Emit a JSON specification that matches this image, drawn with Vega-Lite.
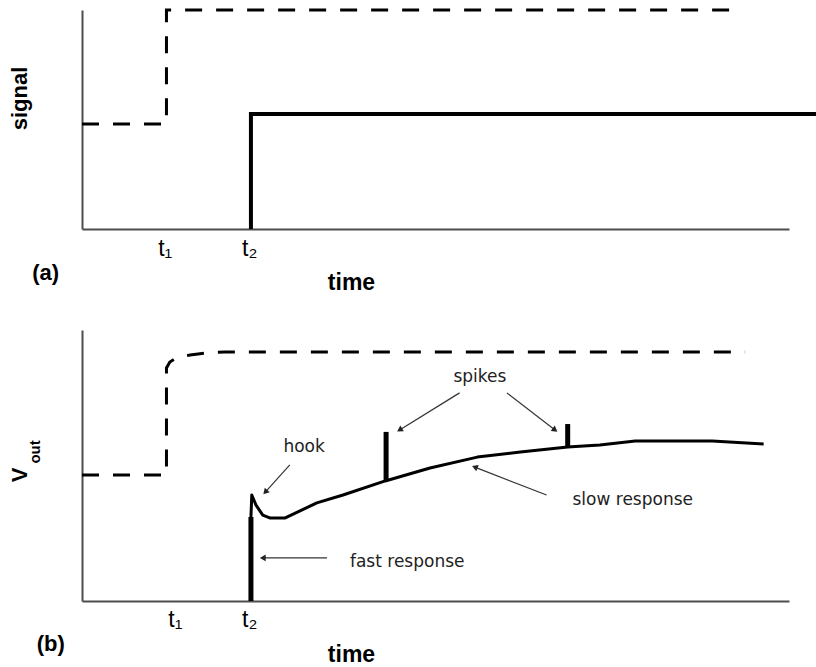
{
  "$schema": "https://vega.github.io/schema/vega-lite/v6.json",
  "autosize": {"type": "pad"},
  "padding": {"left": 8, "top": 4, "right": 0, "bottom": 0},
  "background": "white",
  "bounds": "flush",
  "spacing": 101,
  "config": {"view": {"stroke": null}},
  "datasets": {
    "a_lines": [
      {"series": "dashed", "i": 0, "t": 0, "v": 0.48},
      {"series": "dashed", "i": 1, "t": 1.0, "v": 0.48},
      {"series": "dashed", "i": 2, "t": 1.0, "v": 1.0},
      {"series": "dashed", "i": 3, "t": 7.75, "v": 1.0},
      {"series": "solid", "i": 0, "t": 2.0, "v": 0},
      {"series": "solid", "i": 1, "t": 2.0, "v": 0.525},
      {"series": "solid", "i": 2, "t": 8.69, "v": 0.525}
    ],
    "a_notes": [
      {"label": "(a)", "t": -0.43, "v": -0.2}
    ],
    "b_lines": [
      {"series": "dashed", "i": 0, "t": 0, "v": 0.465},
      {"series": "dashed", "i": 1, "t": 1.0, "v": 0.465},
      {"series": "dashed", "i": 2, "t": 1.0, "v": 0.86},
      {"series": "dashed", "i": 3, "t": 1.04, "v": 0.882},
      {"series": "dashed", "i": 4, "t": 1.12, "v": 0.897},
      {"series": "dashed", "i": 5, "t": 1.28, "v": 0.908},
      {"series": "dashed", "i": 6, "t": 1.46, "v": 0.915},
      {"series": "dashed", "i": 7, "t": 1.69, "v": 0.919},
      {"series": "dashed", "i": 8, "t": 7.85, "v": 0.919},
      {"series": "slow", "i": 0, "t": 2.0, "v": 0.31},
      {"series": "slow", "i": 1, "t": 2.01, "v": 0.391},
      {"series": "slow", "i": 2, "t": 2.06, "v": 0.354},
      {"series": "slow", "i": 3, "t": 2.14, "v": 0.317},
      {"series": "slow", "i": 4, "t": 2.23, "v": 0.306},
      {"series": "slow", "i": 5, "t": 2.40, "v": 0.306},
      {"series": "slow", "i": 6, "t": 2.55, "v": 0.328},
      {"series": "slow", "i": 7, "t": 2.78, "v": 0.362},
      {"series": "slow", "i": 8, "t": 3.09, "v": 0.391},
      {"series": "slow", "i": 9, "t": 3.59, "v": 0.443},
      {"series": "slow", "i": 10, "t": 4.12, "v": 0.491},
      {"series": "slow", "i": 11, "t": 4.68, "v": 0.531},
      {"series": "slow", "i": 12, "t": 5.19, "v": 0.55},
      {"series": "slow", "i": 13, "t": 5.75, "v": 0.568},
      {"series": "slow", "i": 14, "t": 6.13, "v": 0.576},
      {"series": "slow", "i": 15, "t": 6.55, "v": 0.59},
      {"series": "slow", "i": 16, "t": 7.46, "v": 0.59},
      {"series": "slow", "i": 17, "t": 8.07, "v": 0.579}
    ],
    "b_rules": [
      {"name": "fast", "t": 2.0, "v": 0, "v2": 0.31},
      {"name": "spike1", "t": 3.6, "v": 0.443, "v2": 0.624},
      {"name": "spike2", "t": 5.75, "v": 0.568, "v2": 0.653}
    ],
    "b_notes": [
      {"label": "spikes", "t": 4.71, "v": 0.827},
      {"label": "hook", "t": 2.63, "v": 0.568},
      {"label": "fast response", "t": 3.85, "v": 0.144},
      {"label": "slow response", "t": 6.52, "v": 0.373}
    ],
    "b_arrows": [
      {"name": "hook", "t": 2.46, "v": 0.502, "t2": 2.17, "v2": 0.402},
      {"name": "spikes-left", "t": 4.47, "v": 0.768, "t2": 3.76, "v2": 0.631},
      {"name": "spikes-right", "t": 5.03, "v": 0.768, "t2": 5.6, "v2": 0.631},
      {"name": "slow", "t": 5.5, "v": 0.391, "t2": 4.65, "v2": 0.494},
      {"name": "fast", "t": 2.9, "v": 0.159, "t2": 2.14, "v2": 0.159}
    ],
    "b_titles": [
      {"label": "V", "t": -0.734, "v": 0.465},
      {"label": "out", "t": -0.556, "v": 0.55}
    ],
    "b_panel": [
      {"label": "(b)", "t": -0.37, "v": -0.159}
    ]
  },
  "vconcat": [
    {
      "width": 707,
      "height": 219,
      "layer": [
        {
          "data": {"name": "a_lines"},
          "transform": [{"filter": "datum.series == 'dashed'"}],
          "mark": {"type": "line", "color": "black", "strokeWidth": 3, "strokeDash": [17, 14], "strokeCap": "butt", "clip": false},
          "encoding": {
            "x": {"field": "t", "type": "quantitative", "scale": {"domain": [0, 8.37], "nice": false, "zero": false},
              "axis": {"title": "time", "values": [0.98, 1.98], "labelExpr": "datum.value < 1.5 ? 't₁' : 't₂'", "ticks": false, "grid": false,
                "domainColor": "#4d4d4d", "domainWidth": 2, "labelFont": "Liberation Sans", "labelFontSize": 23, "labelColor": "black",
                "labelPadding": 8, "labelFlush": false, "labelOverlap": false,
                "titleFont": "Liberation Sans", "titleFontSize": 23, "titleFontWeight": "bold", "titleColor": "black",
                "titleX": 269, "titleY": 60, "titleBaseline": "alphabetic", "titleAlign": "center"}},
            "y": {"field": "v", "type": "quantitative", "scale": {"domain": [0, 1], "nice": false, "zero": false},
              "axis": {"title": "signal", "ticks": false, "labels": false, "grid": false, "domainColor": "#4d4d4d", "domainWidth": 2,
                "titleFont": "Liberation Sans", "titleFontSize": 22, "titleFontWeight": "bold", "titleColor": "black",
                "titleX": -63, "titleY": 88, "titleBaseline": "middle", "titleAlign": "center", "titleAngle": 270}},
            "order": {"field": "i", "type": "quantitative"}
          }
        },
        {
          "data": {"name": "a_lines"},
          "transform": [{"filter": "datum.series == 'solid'"}],
          "mark": {"type": "line", "color": "black", "strokeWidth": 4, "strokeJoin": "miter", "clip": false},
          "encoding": {
            "x": {"field": "t", "type": "quantitative"},
            "y": {"field": "v", "type": "quantitative"},
            "order": {"field": "i", "type": "quantitative"}
          }
        },
        {
          "data": {"name": "a_notes"},
          "mark": {"type": "text", "font": "Liberation Sans", "fontSize": 22, "fontWeight": "bold", "color": "black", "align": "center", "baseline": "middle"},
          "encoding": {
            "x": {"field": "t", "type": "quantitative"},
            "y": {"field": "v", "type": "quantitative"},
            "text": {"field": "label"}
          }
        }
      ]
    },
    {
      "width": 707,
      "height": 271,
      "layer": [
        {
          "data": {"name": "b_lines"},
          "transform": [{"filter": "datum.series == 'dashed'"}],
          "mark": {"type": "line", "color": "black", "strokeWidth": 3, "strokeDash": [17, 14], "strokeCap": "butt", "clip": false},
          "encoding": {
            "x": {"field": "t", "type": "quantitative", "scale": {"domain": [0, 8.37], "nice": false, "zero": false},
              "axis": {"title": "time", "values": [1.1, 1.98], "labelExpr": "datum.value < 1.5 ? 't₁' : 't₂'", "ticks": false, "grid": false,
                "domainColor": "#4d4d4d", "domainWidth": 2, "labelFont": "Liberation Sans", "labelFontSize": 23, "labelColor": "black",
                "labelPadding": 7, "labelFlush": false, "labelOverlap": false,
                "titleFont": "Liberation Sans", "titleFontSize": 23, "titleFontWeight": "bold", "titleColor": "black",
                "titleX": 269, "titleY": 60, "titleBaseline": "alphabetic", "titleAlign": "center"}},
            "y": {"field": "v", "type": "quantitative", "scale": {"domain": [0, 1], "nice": false, "zero": false},
              "axis": {"title": null, "ticks": false, "labels": false, "grid": false, "domainColor": "#4d4d4d", "domainWidth": 2}},
            "order": {"field": "i", "type": "quantitative"}
          }
        },
        {
          "data": {"name": "b_lines"},
          "transform": [{"filter": "datum.series == 'slow'"}],
          "mark": {"type": "line", "color": "black", "strokeWidth": 3, "strokeJoin": "round", "clip": false},
          "encoding": {
            "x": {"field": "t", "type": "quantitative"},
            "y": {"field": "v", "type": "quantitative"},
            "order": {"field": "i", "type": "quantitative"}
          }
        },
        {
          "data": {"name": "b_rules"},
          "mark": {"type": "rule", "color": "black", "strokeWidth": 5},
          "encoding": {
            "x": {"field": "t", "type": "quantitative"},
            "y": {"field": "v", "type": "quantitative"},
            "y2": {"field": "v2"}
          }
        },
        {
          "data": {"name": "b_arrows"},
          "mark": {"type": "rule", "color": "#333333", "strokeWidth": 1.2},
          "encoding": {
            "x": {"field": "t", "type": "quantitative"},
            "y": {"field": "v", "type": "quantitative"},
            "x2": {"field": "t2"},
            "y2": {"field": "v2"}
          }
        },
        {
          "data": {"name": "b_arrows"},
          "transform": [{"calculate": "atan2((datum.t2 - datum.t) * 84.47, (datum.v2 - datum.v) * 271) * 180 / PI", "as": "heading"}],
          "mark": {"type": "point", "shape": "triangle-up", "filled": true, "color": "#222222", "size": 45, "opacity": 1},
          "encoding": {
            "x": {"field": "t2", "type": "quantitative"},
            "y": {"field": "v2", "type": "quantitative"},
            "angle": {"field": "heading", "type": "quantitative", "scale": null}
          }
        },
        {
          "data": {"name": "b_notes"},
          "mark": {"type": "text", "font": "DejaVu Sans", "fontSize": 17, "color": "#222222", "align": "center", "baseline": "middle"},
          "encoding": {
            "x": {"field": "t", "type": "quantitative"},
            "y": {"field": "v", "type": "quantitative"},
            "text": {"field": "label"}
          }
        },
        {
          "data": {"name": "b_titles"},
          "transform": [{"filter": "datum.label == 'V'"}],
          "mark": {"type": "text", "font": "Liberation Sans", "fontSize": 22, "fontWeight": "bold", "color": "black", "align": "center", "baseline": "middle", "angle": 270},
          "encoding": {
            "x": {"field": "t", "type": "quantitative"},
            "y": {"field": "v", "type": "quantitative"},
            "text": {"field": "label"}
          }
        },
        {
          "data": {"name": "b_titles"},
          "transform": [{"filter": "datum.label == 'out'"}],
          "mark": {"type": "text", "font": "Liberation Sans", "fontSize": 15, "fontWeight": "bold", "color": "black", "align": "center", "baseline": "middle", "angle": 270},
          "encoding": {
            "x": {"field": "t", "type": "quantitative"},
            "y": {"field": "v", "type": "quantitative"},
            "text": {"field": "label"}
          }
        },
        {
          "data": {"name": "b_panel"},
          "mark": {"type": "text", "font": "Liberation Sans", "fontSize": 22, "fontWeight": "bold", "color": "black", "align": "center", "baseline": "middle"},
          "encoding": {
            "x": {"field": "t", "type": "quantitative"},
            "y": {"field": "v", "type": "quantitative"},
            "text": {"field": "label"}
          }
        }
      ]
    }
  ]
}
